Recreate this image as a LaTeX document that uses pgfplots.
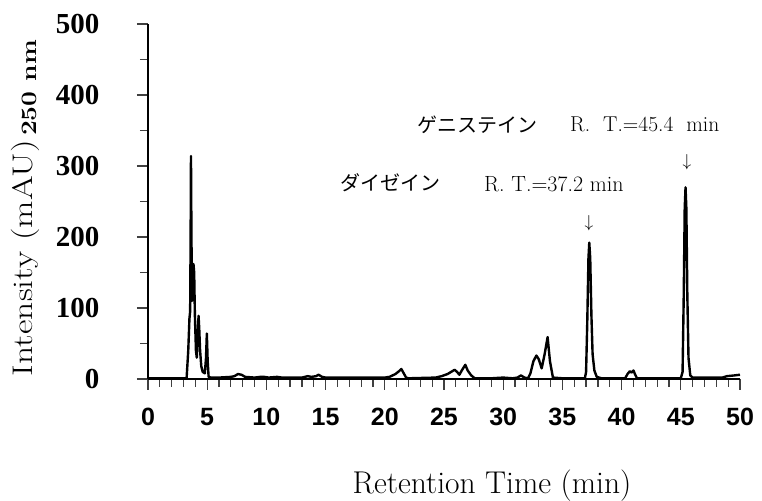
\documentclass[border=0pt]{standalone}
\usepackage{fontspec}
\usepackage{graphicx}
\usepackage{pgfplots}
\pgfplotsset{compat=1.18}
\newfontfamily\jpfont{Noto Sans CJK JP}
\newfontfamily\arialfont{Liberation Sans}
\newfontfamily\timesfont{Liberation Serif}

\begin{document}
\begin{tikzpicture}
\path[use as bounding box] (-148pt,-121pt) rectangle (614pt,379pt);
\begin{axis}[
  at={(0pt,0pt)}, anchor=south west,
  scale only axis,
  width=592pt, height=355pt,
  xmin=0, xmax=50, ymin=0, ymax=500,
  enlargelimits=false,
  axis lines*=left,
  axis line style={line width=1.3pt},
  tick align=outside,
  major tick length=11pt, minor tick length=8pt,
  every tick/.style={black!75, line width=1.2pt},
  xtick={0,5,...,50},
  xticklabels={0,5,10,15,20,25,30,35,40,45,50},
  minor x tick num=4,
  ytick={0,100,...,500},
  yticklabels={0,100,200,300,400,500},
  minor y tick num=1,
  xticklabel style={font=\arialfont\bfseries\fontsize{25}{26}\selectfont, yshift=-15pt},
  yticklabel style={font=\timesfont\bfseries\fontsize{29}{30}\selectfont, xshift=-34pt},
]
\addplot[black, line width=2.4pt, line join=round] coordinates {
  (0,1) (3.26,1) (3.4,40) (3.5,85) (3.56,95) (3.6,200) (3.63,314) (3.67,200)
  (3.72,110) (3.78,120) (3.84,162) (3.9,150) (3.96,90) (4.05,40) (4.12,30)
  (4.2,60) (4.27,89) (4.33,70) (4.4,40) (4.5,18) (4.62,10) (4.8,8) (4.9,30)
  (4.97,64) (5.04,25) (5.12,3) (5.3,2)
  (6,2) (7,3) (7.3,4) (7.6,7) (7.9,6) (8.2,3) (9,2) (9.5,3) (9.8,3) (10.2,2)
  (10.9,3) (11.3,2) (13,2) (13.5,4) (13.8,3) (14.2,4) (14.4,6) (14.7,3) (15,2)
  (20,2) (20.4,3) (20.9,7) (21.2,11) (21.4,14) (21.6,8) (21.8,2) (22,1)
  (24.3,2) (24.8,4) (25.3,7) (25.7,11) (25.9,13) (26.1,10) (26.3,6) (26.5,12)
  (26.8,20) (27.0,12) (27.3,5) (27.6,1) (29,1) (30,2) (30.8,1) (31.2,2)
  (31.5,5) (31.8,2) (32.1,1) (32.3,8) (32.55,25) (32.8,33) (33.0,28)
  (33.25,15) (33.5,35) (33.75,59) (33.95,25) (34.2,2) (35,1)
  (36.9,1) (37.0,10) (37.1,80) (37.2,170) (37.27,192) (37.35,170) (37.45,90)
  (37.55,35) (37.7,12) (37.9,3) (38.3,1)
  (40.3,1) (40.5,7) (40.7,11) (40.85,9) (41.0,12) (41.15,6) (41.3,1)
  (45.0,1) (45.15,10) (45.25,120) (45.33,240) (45.4,270) (45.47,240)
  (45.55,120) (45.65,30) (45.8,5) (46,2) (48.5,2) (48.9,4) (49.5,5) (50,6)
};
\end{axis}

% axis titles
\node[rotate=90, anchor=base, inner sep=0pt, font=\fontsize{35.5}{37}\selectfont]
  at (-115pt,121pt) {\scalebox{1}[0.8]{Intensity (mAU)}};
\node[rotate=90, anchor=base, inner sep=0pt, font=\bfseries\fontsize{22}{24}\selectfont]
  at (-111pt,291pt) {\scalebox{1.2}[1]{250 nm}};
\node[anchor=base, inner sep=0pt, font=\fontsize{31.5}{33}\selectfont]
  at (344pt,-114pt) {Retention Time (min)};

% peak annotations
\node[anchor=west, inner sep=0pt, font=\jpfont\fontsize{20}{21}\selectfont]
  at (192pt,196pt) {ダイゼイン};
\node[anchor=base west, inner sep=0pt, font=\fontsize{22}{23}\selectfont]
  at (336pt,187pt) {R. T.=37.2 min};
\node[anchor=west, inner sep=0pt, font=\jpfont\fontsize{20}{21}\selectfont]
  at (269pt,254pt) {ゲニステイン};
\node[anchor=base west, inner sep=0pt, font=\fontsize{21.5}{22}\selectfont]
  at (422pt,247pt) {R.\ \ T.=45.4\ \ min};
\node[inner sep=0pt, font=\fontsize{18}{19}\selectfont] at (441pt,156pt) {$\downarrow$};
\node[inner sep=0pt, font=\fontsize{18}{19}\selectfont] at (539pt,217pt) {$\downarrow$};
\end{tikzpicture}
\end{document}
